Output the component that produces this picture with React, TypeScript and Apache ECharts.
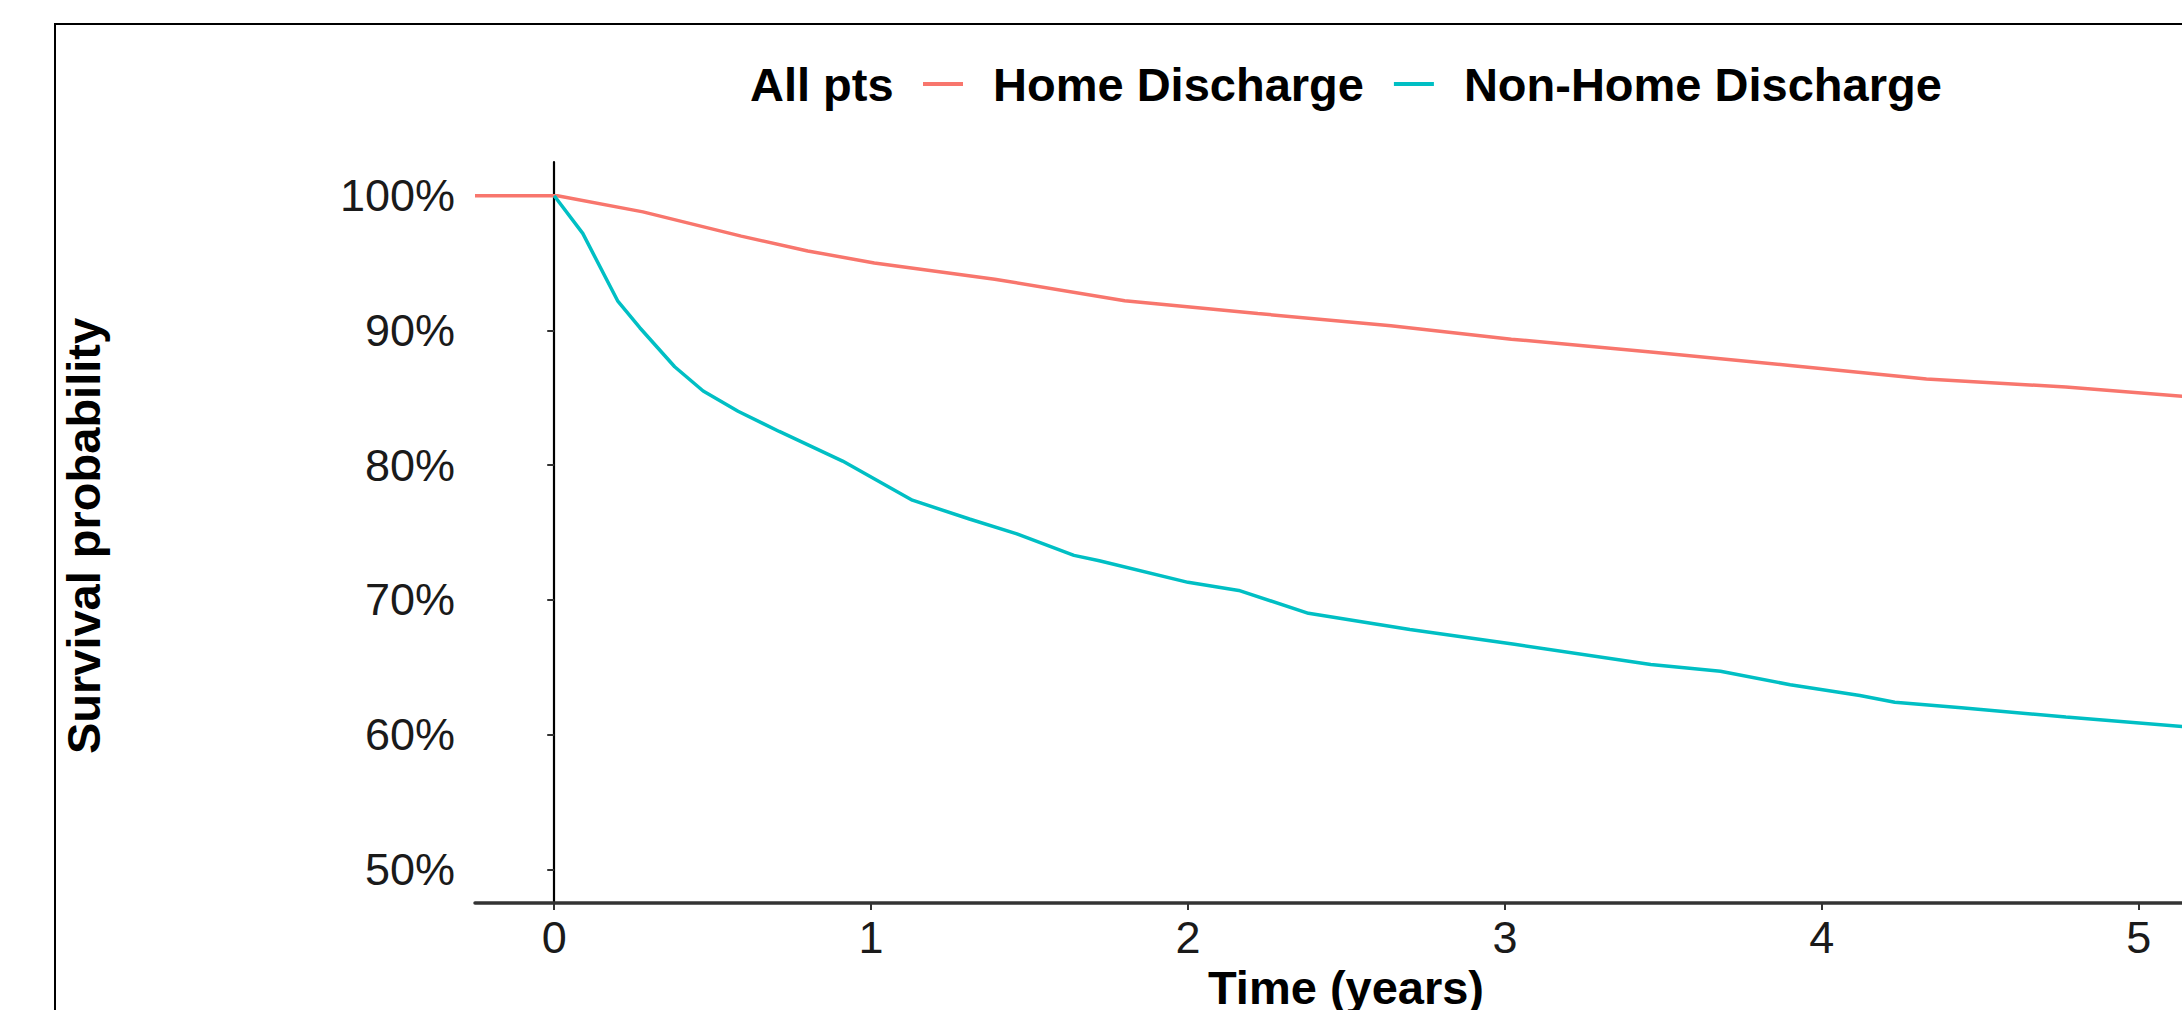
import { useEffect, useRef } from "react";
import * as echarts from "echarts";

const FONT = "'Liberation Sans', Arial, Helvetica, sans-serif";

const seriesNames = ["Home Discharge", "Non-Home Discharge"];
const legendTitle = "All pts";
const xTicks = [0, 1, 2, 3, 4, 5];
const yTicks = [50, 60, 70, 80, 90, 100];

const homeTime = [-0.25, 0.01, 0.28, 0.59, 0.8, 1.01, 1.39, 1.8, 2.22, 2.64, 3.02, 3.46, 3.9, 4.33, 4.77, 5.14, 5.25];
const homeSurv = [100, 100, 98.8, 97.0, 95.9, 95.0, 93.8, 92.2, 91.25, 90.35, 89.35, 88.4, 87.4, 86.4, 85.8, 85.1, 85.0];

const nonHomeTime = [0, 0.09, 0.2, 0.27, 0.38, 0.47, 0.58, 0.71, 0.91, 1.13, 1.31, 1.46, 1.64, 1.72, 2.0, 2.16, 2.38, 2.7, 3.03, 3.46, 3.68, 3.9, 4.12, 4.23, 4.44, 4.77, 5.14, 5.25];
const nonHomeSurv = [100, 97.2, 92.2, 90.2, 87.3, 85.5, 84.0, 82.5, 80.3, 77.4, 76.0, 74.9, 73.3, 72.9, 71.3, 70.7, 69.0, 67.8, 66.7, 65.2, 64.7, 63.7, 62.9, 62.4, 62.0, 61.3, 60.6, 60.4];

const colors = ["#F8766D", "#00BFC4"];

export default function App() {
  const ref = useRef<HTMLDivElement>(null);
  useEffect(() => {
    document.body.style.margin = "0";
    document.body.style.overflow = "hidden";
    const chart = echarts.init(ref.current!, undefined, { renderer: "svg" });
    const zip = (t: number[], s: number[]) => t.map((v, i) => [v, s[i]]);
    chart.setOption({
      animation: false,
      backgroundColor: "#fff",
      textStyle: { fontFamily: FONT },
      grid: { left: 475, top: 162, width: 1743, height: 741, containLabel: false, outerBoundsMode: "none" },
      xAxis: {
        type: "value",
        min: -0.25,
        max: 5.25,
        axisLine: { show: true, lineStyle: { color: "#333", width: 3.5 } },
        axisTick: { show: true, customValues: xTicks, length: 7, lineStyle: { color: "#333", width: 2 } },
        axisLabel: { customValues: xTicks, fontSize: 45, color: "#1a1a1a", margin: 12, fontFamily: FONT },
        splitLine: { show: false },
      },
      yAxis: {
        type: "value",
        min: 47.5,
        max: 102.5,
        axisLine: { show: true, lineStyle: { color: "#000", width: 2.2 } },
        axisTick: { show: true, customValues: yTicks, length: 7, lineStyle: { color: "#333", width: 2 } },
        axisLabel: { customValues: yTicks, fontSize: 45, color: "#1a1a1a", margin: 20, fontFamily: FONT, formatter: "{value}%" },
        splitLine: { show: false },
      },
      legend: {
        left: 923,
        top: 60,
        padding: 0,
        itemWidth: 40,
        itemHeight: 4,
        itemGap: 30,
        icon: "rect",
        data: seriesNames,
        textStyle: { fontSize: 47, fontWeight: "bold", color: "#000", fontFamily: FONT, lineHeight: 48, padding: [0, 0, 0, 25] },
      },
      graphic: [
        {
          type: "rect",
          x: 55,
          y: 24,
          silent: true,
          z: -10,
          shape: { x: 0, y: 0, width: 3000, height: 3000 },
          style: { fill: "none", stroke: "#000", lineWidth: 2 },
        },
        {
          type: "text",
          x: 750,
          y: 84.5,
          style: { text: legendTitle, fontSize: 47, fontWeight: "bold", fontFamily: FONT, fill: "#000", align: "left", textAlign: "left", verticalAlign: "middle", textVerticalAlign: "middle" },
        },
        {
          type: "text",
          x: 1346,
          y: 987,
          style: { text: "Time (years)", fontSize: 47, fontWeight: "bold", fontFamily: FONT, fill: "#000", align: "center", textAlign: "center", verticalAlign: "middle", textVerticalAlign: "middle" },
        },
        {
          type: "text",
          x: 83,
          y: 536,
          rotation: Math.PI / 2,
          style: { text: "Survival probability", fontSize: 47, fontWeight: "bold", fontFamily: FONT, fill: "#000", align: "center", textAlign: "center", verticalAlign: "middle", textVerticalAlign: "middle" },
        },
      ],
      series: [
        {
          name: seriesNames[0],
          type: "line",
          data: zip(homeTime, homeSurv),
          showSymbol: false,
          color: colors[0],
          lineStyle: { width: 3.5, color: colors[0] },
          itemStyle: { color: colors[0] },
        },
        {
          name: seriesNames[1],
          type: "line",
          data: zip(nonHomeTime, nonHomeSurv),
          showSymbol: false,
          color: colors[1],
          lineStyle: { width: 3.5, color: colors[1] },
          itemStyle: { color: colors[1] },
        },
      ],
    });
    return () => chart.dispose();
  }, []);
  return <div ref={ref} style={{ width: 2182, height: 1010 }} />;
}
